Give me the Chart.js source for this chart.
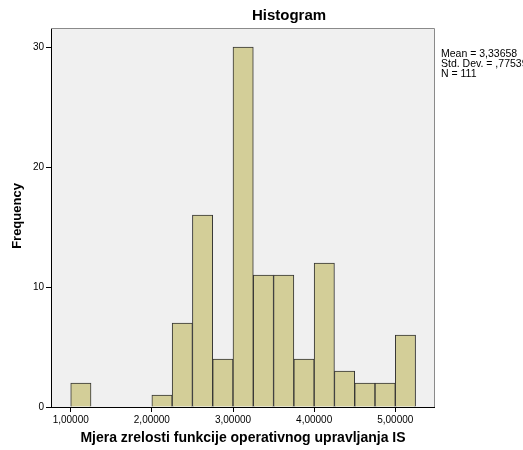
<!DOCTYPE html>
<html><head><meta charset="utf-8">
<script src="https://cdn.jsdelivr.net/npm/chart.js@4"></script>
<style>html,body{margin:0;padding:0;background:#fff}#wrap{width:523px;height:450px}</style>
</head><body><div id="wrap"><canvas id="c" width="523" height="450"></canvas></div>
<script>
const binCenters = [1.125, 2.125, 2.375, 2.625, 2.875, 3.125, 3.375, 3.625, 3.875, 4.125, 4.375, 4.625, 4.875, 5.125];
const frequencies = [2, 1, 7, 16, 4, 30, 11, 11, 4, 12, 3, 2, 2, 6];
const xTicks = [1, 2, 3, 4, 5];
const yTicks = [0, 10, 20, 30];
const statsLines = ['Mean = 3,33658', 'Std. Dev. = ,77539', 'N = 111'];
const titleText = 'Histogram';
const xTitle = 'Mjera zrelosti funkcije operativnog upravljanja IS';
const yTitle = 'Frequency';

const font = '"Liberation Sans", Arial, sans-serif';

const deco = {
  id: 'deco',
  beforeDraw(chart) {
    const {ctx, chartArea: a} = chart;
    ctx.save();
    ctx.fillStyle = '#f0f0f0';
    ctx.fillRect(a.left, a.top, a.right - a.left, a.bottom - a.top);
    ctx.restore();
  },
  afterDraw(chart) {
    const {ctx, chartArea: a} = chart;
    ctx.save();
    ctx.strokeStyle = '#8a8a8a';
    ctx.lineWidth = 1;
    ctx.beginPath();
    ctx.moveTo(a.left, a.top + 0.5);
    ctx.lineTo(a.right + 0.5, a.top + 0.5);
    ctx.lineTo(a.right + 0.5, a.bottom);
    ctx.stroke();
    ctx.fillStyle = '#000';
    ctx.font = 'bold 15px ' + font;
    ctx.textAlign = 'center';
    ctx.textBaseline = 'middle';
    ctx.fillText(titleText, 289, 16);
    ctx.font = 'bold 14px ' + font;
    ctx.fillText(xTitle, 243, 438);
    ctx.font = 'bold 13px ' + font;
    ctx.save();
    ctx.translate(17, 216);
    ctx.rotate(-Math.PI / 2);
    ctx.fillText(yTitle, 0, 0);
    ctx.restore();
    ctx.font = '10.5px ' + font;
    ctx.textAlign = 'left';
    ctx.textBaseline = 'top';
    statsLines.forEach((s, i) => ctx.fillText(s, 441, 49 + i * 10));
    ctx.restore();
  }
};

new Chart(document.getElementById('c'), {
  type: 'bar',
  data: {
    datasets: [{
      data: binCenters.map((x, i) => ({x: x, y: frequencies[i]})),
      backgroundColor: '#d3ce98',
      borderColor: '#333333',
      borderWidth: 1,
      barPercentage: 1,
      categoryPercentage: 1
    }]
  },
  options: {
    responsive: false,
    animation: false,
    layout: {padding: {top: 28, right: 89, left: 0, bottom: 0}},
    plugins: {legend: {display: false}, tooltip: {enabled: false}},
    scales: {
      x: {
        type: 'linear',
        min: 0.757,
        max: 5.477,
        offset: false,
        afterBuildTicks(s) { s.ticks = xTicks.map(v => ({value: v})); },
        afterFit(s) { s.height = 43; },
        ticks: {
          color: '#000',
          font: {family: font, size: 10},
          padding: 2,
          maxRotation: 0,
          callback: v => v.toFixed(5).replace('.', ',')
        },
        grid: {display: true, offset: false, drawOnChartArea: false, drawTicks: true, tickLength: 5, color: '#000'},
        border: {display: true, color: '#000', width: 1}
      },
      y: {
        min: 0,
        max: 31.6,
        afterBuildTicks(s) { s.ticks = yTicks.map(v => ({value: v})); },
        afterFit(s) { s.width = 51; },
        ticks: {color: '#000', font: {family: font, size: 10}, padding: 2},
        grid: {display: true, drawOnChartArea: false, drawTicks: true, tickLength: 5, color: '#000'},
        border: {display: true, color: '#000', width: 1}
      }
    }
  },
  plugins: [deco]
});
</script>
</body></html>
